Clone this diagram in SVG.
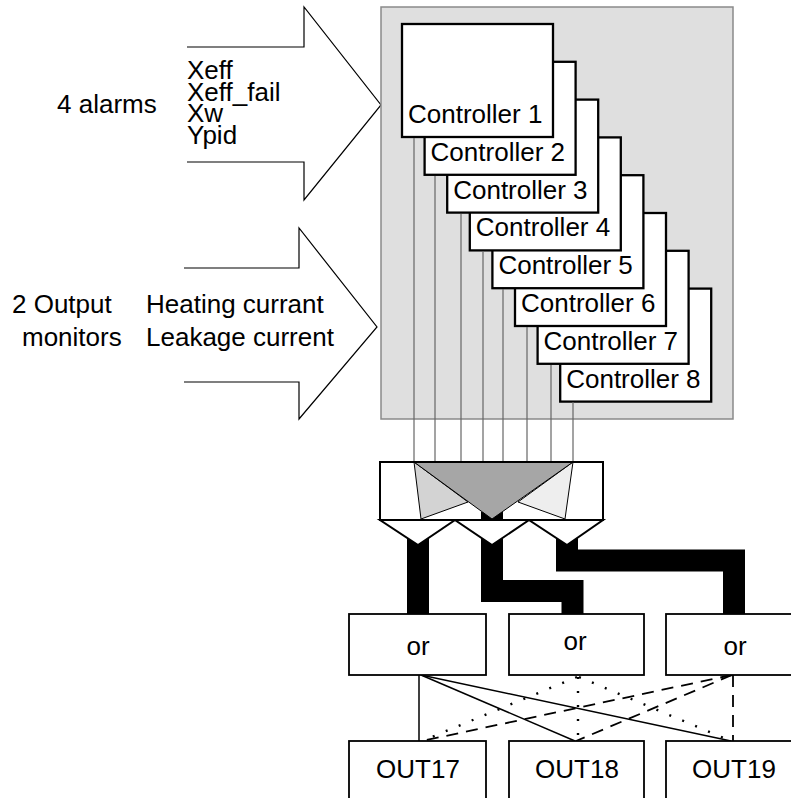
<svg xmlns="http://www.w3.org/2000/svg" width="791" height="798" viewBox="0 0 791 798">
<style>
text{font-family:"Liberation Sans",Arial,sans-serif;font-size:26px;fill:#000}
.ctl{fill:#fff;stroke:#000;stroke-width:2.3}
.box{fill:#fff;stroke:#000;stroke-width:1.8}
.arrow{fill:none;stroke:#000;stroke-width:1.2}
.wire{stroke:#666;stroke-width:1.2}
.bus{fill:none;stroke:#000;stroke-width:22;stroke-linejoin:miter;stroke-linecap:butt}
.solid{stroke:#000;stroke-width:1.5}
.dot{stroke:#000;stroke-width:2.4;stroke-dasharray:2 12;stroke-linecap:butt}
.dash{stroke:#000;stroke-width:1.8;stroke-dasharray:12 8}
.mid{text-anchor:middle}
</style>
<rect width="791" height="798" fill="#fff"/>
<g id="inputs-alarms">
<polyline class="arrow" points="187,47 304,47 304,7 381,105 304,200 304,162 187,162"/>
<text x="57" y="113">4 alarms</text>
<text x="187" y="79">Xeff</text>
<text x="187" y="100.5">Xeff_fail</text>
<text x="187" y="122">Xw</text>
<text x="187" y="143.5">Ypid</text>
</g>
<g id="inputs-monitors">
<polyline class="arrow" points="184,268 299,268 299,228 377,327 299,419 299,382 184,382"/>
<text x="12" y="313">2 Output</text>
<text x="22" y="346">monitors</text>
<text x="146" y="313">Heating currant</text>
<text x="146" y="346">Leakage current</text>
</g>
<g id="panel">
<rect x="381" y="7" width="352" height="412" fill="#dfdfdf" stroke="#8a8a8a" stroke-width="1.5"/>
</g>
<g id="controllers">
<g id="controller8"><rect class="ctl" x="560.2" y="288.6" width="151" height="113"/><text x="566.2" y="387.6">Controller 8</text></g>
<g id="controller7"><rect class="ctl" x="537.6" y="250.8" width="151" height="113"/><text x="543.6" y="349.8">Controller 7</text></g>
<g id="controller6"><rect class="ctl" x="515" y="213" width="151" height="113"/><text x="521" y="312">Controller 6</text></g>
<g id="controller5"><rect class="ctl" x="492.4" y="175.2" width="151" height="113"/><text x="498.4" y="274.2">Controller 5</text></g>
<g id="controller4"><rect class="ctl" x="469.8" y="137.4" width="151" height="113"/><text x="475.8" y="236.4">Controller 4</text></g>
<g id="controller3"><rect class="ctl" x="447.2" y="99.6" width="151" height="113"/><text x="453.2" y="198.6">Controller 3</text></g>
<g id="controller2"><rect class="ctl" x="424.6" y="61.8" width="151" height="113"/><text x="430.6" y="160.8">Controller 2</text></g>
<g id="controller1"><rect class="ctl" x="402" y="24" width="151" height="113"/><text x="408" y="123">Controller 1</text></g>
</g>
<g id="connectors">
<line class="wire" x1="414" y1="138" x2="414" y2="462"/>
<line class="wire" x1="435" y1="176" x2="435" y2="462"/>
<line class="wire" x1="461" y1="214" x2="461" y2="462"/>
<line class="wire" x1="483" y1="251" x2="483" y2="462"/>
<line class="wire" x1="503" y1="289" x2="503" y2="462"/>
<line class="wire" x1="527" y1="327" x2="527" y2="462"/>
<line class="wire" x1="551" y1="365" x2="551" y2="462"/>
<line class="wire" x1="573" y1="402" x2="573" y2="462"/>
<polyline class="bus" points="418,530 418,614"/>
<polyline class="bus" points="492,512 492,591 572.5,591 572.5,614"/>
<polyline class="bus" points="567,530 567,560.5 734,560.5 734,614"/>
<line class="solid" x1="419" y1="675" x2="419" y2="741"/>
<line class="solid" x1="421" y1="675" x2="575" y2="741"/>
<line class="solid" x1="421" y1="675" x2="731" y2="741"/>
<line class="dot" x1="578" y1="677" x2="578" y2="741"/>
<line class="dot" x1="577" y1="677" x2="422" y2="741"/>
<line class="dot" x1="579" y1="677" x2="731" y2="741"/>
<line class="dash" x1="733" y1="675" x2="733" y2="741"/>
<line class="dash" x1="732" y1="675" x2="422" y2="741"/>
<line class="dash" x1="732" y1="675" x2="576" y2="741"/>
</g>
<g id="mux">
<polygon points="414,462 421,519 468,502" fill="#d3d3d3" stroke="#000" stroke-width="1"/>
<polygon points="573,462 565,519 518,502" fill="#eeeeee" stroke="#000" stroke-width="1"/>
<polygon points="414,462 573,462 492,519" fill="#a6a6a6" stroke="#000" stroke-width="1"/>
<rect x="380" y="462" width="223" height="58" fill="none" stroke="#000" stroke-width="2"/>
<polygon points="380,520 455,520 418,545" fill="#fff" stroke="#000" stroke-width="2"/>
<polygon points="455,520 529,520 492,545" fill="#fff" stroke="#000" stroke-width="2"/>
<polygon points="529,520 603,520 567,545" fill="#fff" stroke="#000" stroke-width="2"/>
</g>
<g id="or1"><rect class="box" x="349" y="614" width="137" height="61"/><text class="mid" x="418" y="655">or</text></g>
<g id="or2"><rect class="box" x="509" y="614" width="135" height="61"/><text class="mid" x="575" y="650">or</text></g>
<g id="or3"><rect class="box" x="666" y="614" width="140" height="61"/><text class="mid" x="735" y="655">or</text></g>
<g id="out17"><rect class="box" x="349" y="741" width="137" height="70"/><text class="mid" x="418" y="778">OUT17</text></g>
<g id="out18"><rect class="box" x="509" y="741" width="135" height="70"/><text class="mid" x="577" y="778">OUT18</text></g>
<g id="out19"><rect class="box" x="666" y="741" width="140" height="70"/><text class="mid" x="734" y="778">OUT19</text></g>
</svg>
